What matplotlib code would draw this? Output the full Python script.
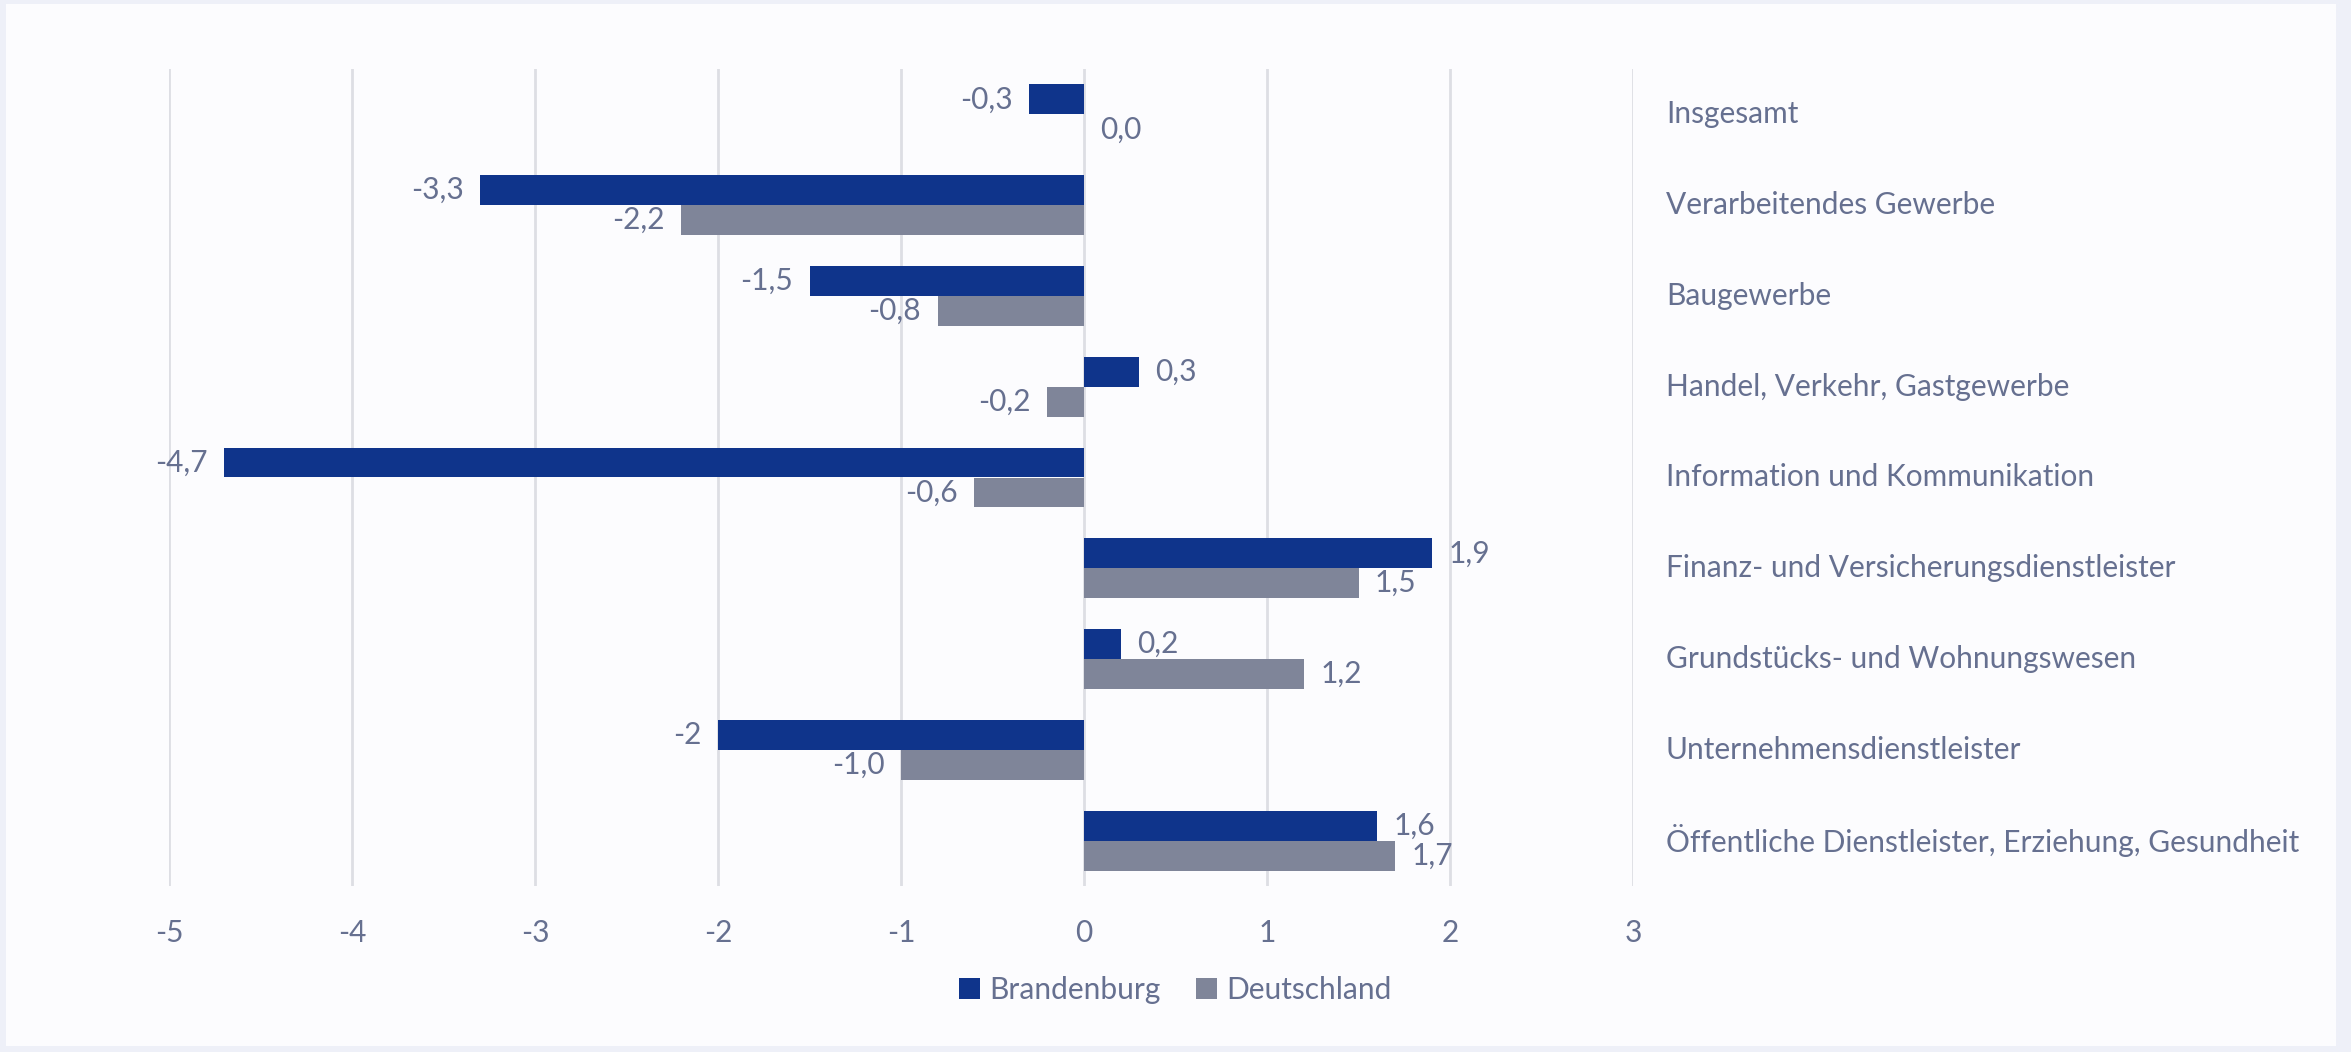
import numpy as np
import matplotlib.pyplot as plt
from matplotlib.patches import Rectangle

plt.rcParams['font.family'] = ['Lato', 'DejaVu Sans']

# data
categories = ["Insgesamt", "Verarbeitendes Gewerbe", "Baugewerbe",
              "Handel, Verkehr, Gastgewerbe", "Information und Kommunikation",
              "Finanz- und Versicherungsdienstleister",
              "Grundstücks- und Wohnungswesen", "Unternehmensdienstleister",
              "Öffentliche Dienstleister, Erziehung, Gesundheit"]
brandenburg = [-0.3, -3.3, -1.5, 0.3, -4.7, 1.9, 0.2, -2.0, 1.6]
deutschland = [0.0, -2.2, -0.8, -0.2, -0.6, 1.5, 1.2, -1.0, 1.7]
brandenburg_labels = ["-0,3", "-3,3", "-1,5", "0,3", "-4,7", "1,9", "0,2", "-2", "1,6"]
deutschland_labels = ["0,0", "-2,2", "-0,8", "-0,2", "-0,6", "1,5", "1,2", "-1,0", "1,7"]
xticks = [-5, -4, -3, -2, -1, 0, 1, 2, 3]

c_bb = "#0f348b"
c_de = "#7f8599"
c_text = "#667090"
c_grid = "#dddee4"

W, H = 2351, 1052
fig = plt.figure(figsize=(W / 100, H / 100), dpi=100)
fig.patch.set_facecolor("#eef0f8")
card = Rectangle((6 / W, 1 - 1046 / H), (2336 - 6) / W, (1046 - 4) / H,
                 transform=fig.transFigure, facecolor="#fcfcfe",
                 edgecolor="none", zorder=-10)
fig.patches.append(card)

ax = fig.add_axes([169 / W, 1 - 886 / H, (1633 - 169) / W, (886 - 69) / H])
ax.set_facecolor("none")

y = np.arange(len(categories))
h = 0.33
ax.barh(y - h / 2, brandenburg, height=h, color=c_bb, label="Brandenburg", zorder=3)
ax.barh(y + h / 2, deutschland, height=h, color=c_de, label="Deutschland", zorder=3)

off = 0.09
fs = 21.5
for i in range(len(categories)):
    for v, lab, yy in ((brandenburg[i], brandenburg_labels[i], y[i] - h / 2),
                       (deutschland[i], deutschland_labels[i], y[i] + h / 2)):
        if v < 0:
            ax.text(v - off, yy, lab, ha="right", va="center", fontsize=fs, color=c_text)
        else:
            ax.text(v + off, yy, lab, ha="left", va="center", fontsize=fs, color=c_text)
    ax.text(3.18, y[i], categories[i], ha="left", va="center", fontsize=fs,
            color=c_text, clip_on=False)

ax.set_xlim(-5, 3)
ax.set_ylim(len(categories) - 0.5, -0.5)
ax.set_xticks(xticks)
ax.set_xticklabels([str(t) for t in xticks])
ax.set_yticks([])
ax.grid(axis="x", color=c_grid, linewidth=2, zorder=0)
ax.tick_params(axis="x", length=0, labelsize=fs, colors=c_text, pad=24)
for s in ax.spines.values():
    s.set_visible(False)

fig.legend(loc="center", bbox_to_anchor=(0.5, 1 - 990 / H), ncol=2, frameon=False,
           fontsize=fs, labelcolor=c_text, handlelength=0.7, handleheight=0.7,
           handletextpad=0.3, columnspacing=1.2)

fig.savefig("out.png", dpi=100, facecolor=fig.get_facecolor())
